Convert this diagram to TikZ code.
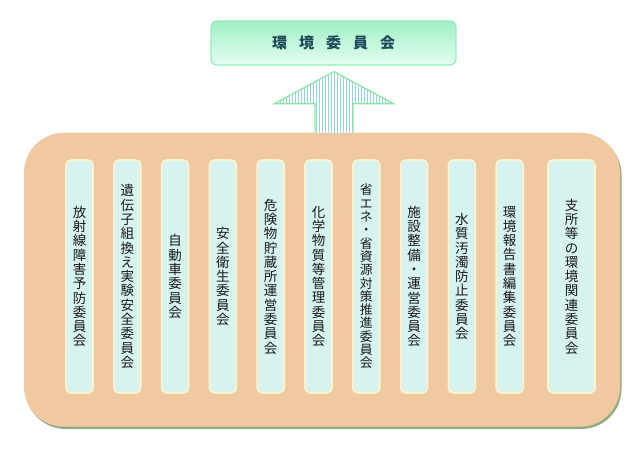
\documentclass[tikz,border=0pt]{standalone}
\usepackage{fontspec}
\newfontfamily\jp{Noto Sans CJK JP}
\usetikzlibrary{calc}
\definecolor{peach}{RGB}{241,201,160}
\definecolor{shadowc}{RGB}{150,170,135}
\definecolor{subfill}{RGB}{214,243,240}
\definecolor{subedge}{RGB}{252,244,205}
\definecolor{topedge}{RGB}{150,236,185}
\definecolor{toptop}{RGB}{160,240,198}
\definecolor{topbot}{RGB}{228,253,240}
\definecolor{titlec}{RGB}{30,75,90}
\definecolor{stripe}{RGB}{150,210,228}
\definecolor{arrowedge}{RGB}{140,232,160}
\tikzset{
  bigbox/.style={fill=peach, rounded corners=40pt, minimum width=596pt, minimum height=294pt, inner sep=0pt},
  subbox/.style={fill=subfill, draw=subedge, line width=1.6pt, rounded corners=5pt, minimum width=27pt, minimum height=233pt, inner sep=0pt, align=center, font=\jp\fontsize{13.5}{14.3}\selectfont, text=black!90},
  topbox/.style={top color=toptop, bottom color=topbot, draw=topedge, line width=1.2pt, rounded corners=6pt, minimum width=245pt, minimum height=44pt, inner sep=0pt, font=\jp\bfseries\fontsize{15}{16}\selectfont, text=titlec}
}
\begin{document}
\begin{tikzpicture}[x=1pt,y=-1pt]
\useasboundingbox[fill=white] (0,0) rectangle (640,459);
% big box with shadow
\fill[shadowc, rounded corners=40pt] (25.5,135) rectangle (621.5,429);
\node[bigbox] (big) at (322,279.7) {};
% top box
\node[topbox] (top) at (333.5,43) {環\hspace{12pt}境\hspace{12pt}委\hspace{12pt}員\hspace{12pt}会};
% arrow
\coordinate (tip) at ($(top.south)+(0.5,6)$);
\begin{scope}
\clip (tip) -- ++(59.5,32) -- ++(-40.5,0) -- ($(tip|-big.north)+(19,0)$) -- ($(tip|-big.north)+(-19,0)$) -- ($(tip)+(-19,32)$) -- ++(-40.5,0) -- cycle;
\fill[white] ($(tip)+(-60,0)$) rectangle ($(tip|-big.north)+(60,0)$);
\foreach \i in {0,...,40} {
  \draw[stripe, line width=1pt] ($(tip)+(-60+3*\i,0)$) -- ($(tip|-big.north)+(-60+3*\i,0)$);
}
\end{scope}
\draw[arrowedge, line width=1.3pt, line join=miter] ($(tip|-big.north)+(-19,0)$) -- ($(tip)+(-19,32)$) -- ++(-40.5,0) -- (tip) -- ++(59.5,32) -- ++(-40.5,0) -- ($(tip|-big.north)+(19,0)$);
% sub boxes
\node[subbox] (s1) at (79.5,276.5) {放\\射\\線\\障\\害\\予\\防\\委\\員\\会};
\node[subbox] (s2) at (127.3,276.5) {遺\\伝\\子\\組\\換\\え\\実\\験\\安\\全\\委\\員\\会};
\node[subbox] (s3) at (175.1,276.5) {自\\動\\車\\委\\員\\会};
\node[subbox] (s4) at (222.9,276.5) {安\\全\\衛\\生\\委\\員\\会};
\node[subbox] (s5) at (270.7,276.5) {危\\険\\物\\貯\\蔵\\所\\運\\営\\委\\員\\会};
\node[subbox] (s6) at (318.5,276.5) {化\\学\\物\\質\\等\\管\\理\\委\\員\\会};
\node[subbox, font=\jp\fontsize{12.8}{13.3}\selectfont] (s7) at (366.3,276.5) {省\\エ\\ネ\\・\\省\\資\\源\\対\\策\\推\\進\\委\\員\\会};
\node[subbox] (s8) at (414.1,276.5) {施\\設\\整\\備\\・\\運\\営\\委\\員\\会};
\node[subbox] (s9) at (461.9,276.5) {水\\質\\汚\\濁\\防\\止\\委\\員\\会};
\node[subbox] (s10) at (509.7,276.5) {環\\境\\報\\告\\書\\編\\集\\委\\員\\会};
\node[subbox, minimum width=47pt] (s11) at (571.5,276.5) {支\\所\\等\\の\\環\\境\\関\\連\\委\\員\\会};
\end{tikzpicture}
\end{document}
